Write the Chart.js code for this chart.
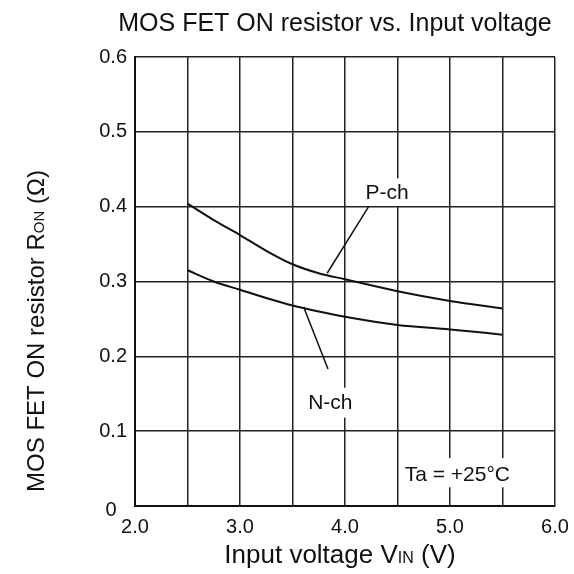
<!DOCTYPE html>
<html>
<head>
<meta charset="utf-8">
<script src="https://cdn.jsdelivr.net/npm/chart.js@4/dist/chart.umd.min.js"></script>
<style>
  html, body { margin: 0; padding: 0; background: #fff; }
  #wrap { width: 574px; height: 574px; }
</style>
</head>
<body>
<div id="wrap"><canvas id="ronChart"></canvas></div>
<script>
// values
const voltage = [2.5, 2.75, 3.0, 3.25, 3.5, 3.75, 4.0, 4.5, 5.0, 5.5];
const pchRon  = [0.404, 0.382, 0.362, 0.341, 0.323, 0.311, 0.303, 0.287, 0.274, 0.264];
const nchRon  = [0.315, 0.300, 0.289, 0.278, 0.268, 0.260, 0.253, 0.242, 0.236, 0.229];

// leader lines from label to curve
const pchLeaderX = [3.83, 4.225];
const pchLeaderY = [0.311, 0.400];
const nchLeaderX = [3.606, 3.838];
const nchLeaderY = [0.266, 0.183];

const xTicks = [2.0, 3.0, 4.0, 5.0, 6.0];
const yTicks = [0, 0.1, 0.2, 0.3, 0.4, 0.5, 0.6];

const chartTitle = 'MOS FET ON resistor vs. Input voltage';
const FONT = '"Liberation Sans", Arial, Helvetica, sans-serif';

function toPoints(xs, ys) {
    return xs.map((x, i) => ({ x: x, y: ys[i] }));
}

// text labels placed in data coordinates, drawn on a white box
const notes = [
    { text: 'P-ch', x: 4.40, y: 0.418, box: [4.11, 4.69, 0.438, 0.401] },
    { text: 'N-ch', x: 3.86, y: 0.138, box: [3.63, 4.10, 0.158, 0.118] },
    { text: 'Ta = +25°C', x: 5.07, y: 0.041, box: [4.55, 5.70, 0.064, 0.025] }
];

// draws title, axis titles (with subscripts) and the in-plot notes
const textPlugin = {
    id: 'textPlugin',
    afterDatasetsDraw(chart) {
        const ctx = chart.ctx;
        const xs = chart.scales.x;
        const ys = chart.scales.y;
        ctx.save();

        notes.forEach(n => {
            const l = xs.getPixelForValue(n.box[0]);
            const r = xs.getPixelForValue(n.box[1]);
            const t = ys.getPixelForValue(n.box[2]);
            const b = ys.getPixelForValue(n.box[3]);
            ctx.fillStyle = '#fff';
            ctx.fillRect(l, t, r - l, b - t);
            ctx.fillStyle = '#111';
            ctx.font = '21px ' + FONT;
            ctx.textAlign = 'center';
            ctx.textBaseline = 'middle';
            ctx.fillText(n.text, xs.getPixelForValue(n.x), ys.getPixelForValue(n.y));
        });
        ctx.restore();
    },
    afterDraw(chart) {
        const ctx = chart.ctx;
        const xs = chart.scales.x;
        const ys = chart.scales.y;
        ctx.save();
        ctx.fillStyle = '#111';

        // the "0" on the y axis sits lower-left of the others
        ctx.font = '20px ' + FONT;
        ctx.textAlign = 'center';
        ctx.textBaseline = 'middle';
        ctx.fillText('0', xs.left - 24, ys.getPixelForValue(0) + 4);

        ctx.textBaseline = 'alphabetic';

        // main title
        ctx.font = '25px ' + FONT;
        ctx.textAlign = 'center';
        ctx.fillText(chartTitle, 335, 31);

        // x axis title: Input voltage V_IN (V)
        drawSubText(ctx, [['Input voltage V', 26, 0], ['IN', 16, 0], [' (V)', 26, 0]], 340, 563);

        // y axis title rotated: MOS FET ON resistor R_ON (Ω)
        ctx.translate(44, 331);
        ctx.rotate(-Math.PI / 2);
        drawSubText(ctx, [['MOS FET ON resistor R', 24, 0], ['ON', 15, 0], [' (Ω)', 24, 0]], 0, 0);
        ctx.restore();
    }
};

function drawSubText(ctx, parts, cx, baseY) {
    let total = 0;
    parts.forEach(p => {
        ctx.font = p[1] + 'px ' + FONT;
        total += ctx.measureText(p[0]).width;
    });
    let x = cx - total / 2;
    ctx.textAlign = 'left';
    parts.forEach(p => {
        ctx.font = p[1] + 'px ' + FONT;
        ctx.fillText(p[0], x, baseY + p[2]);
        x += ctx.measureText(p[0]).width;
    });
}

const lineStyle = {
    borderColor: '#111',
    borderWidth: 2,
    pointRadius: 0,
    fill: false
};

new Chart(document.getElementById('ronChart'), {
    type: 'line',
    data: {
        datasets: [
            Object.assign({ label: 'P-ch', data: toPoints(voltage, pchRon), cubicInterpolationMode: 'monotone' }, lineStyle),
            Object.assign({ label: 'N-ch', data: toPoints(voltage, nchRon), cubicInterpolationMode: 'monotone' }, lineStyle),
            Object.assign({ label: 'P-ch leader', data: toPoints(pchLeaderX, pchLeaderY) }, lineStyle, { borderWidth: 1.5 }),
            Object.assign({ label: 'N-ch leader', data: toPoints(nchLeaderX, nchLeaderY) }, lineStyle, { borderWidth: 1.5 })
        ]
    },
    options: {
        responsive: true,
        maintainAspectRatio: false,
        animation: false,
        layout: { padding: { left: 0, top: 57, right: 19, bottom: 0 } },
        plugins: {
            legend: { display: false },
            tooltip: { enabled: false },
            title: { display: false }
        },
        scales: {
            x: {
                type: 'linear',
                min: 2,
                max: 6,
                afterBuildTicks: scale => {
                    const t = [];
                    for (let v = 2; v <= 6.001; v += 0.5) t.push({ value: Math.round(v * 10) / 10 });
                    scale.ticks = t;
                },
                afterFit: scale => {
                    scale.height = 68;
                    scale.paddingLeft = 0;
                    scale.paddingRight = 0;
                },
                grid: { color: '#222', lineWidth: 1.5, drawTicks: false },
                border: { color: '#111', width: 2 },
                ticks: {
                    autoSkip: false,
                    maxRotation: 0,
                    padding: 9,
                    color: '#111',
                    font: { family: FONT, size: 20 },
                    callback: v => xTicks.includes(v) ? v.toFixed(1) : ''
                }
            },
            y: {
                type: 'linear',
                min: 0,
                max: 0.6,
                afterBuildTicks: scale => {
                    scale.ticks = yTicks.map(v => ({ value: v }));
                },
                afterFit: scale => {
                    scale.width = 135;
                    scale.paddingTop = 0;
                    scale.paddingBottom = 0;
                },
                grid: { color: '#222', lineWidth: 1.5, drawTicks: false },
                border: { color: '#111', width: 2 },
                ticks: {
                    padding: 8,
                    color: '#111',
                    font: { family: FONT, size: 20 },
                    callback: v => v === 0 ? '' : v.toFixed(1)
                }
            }
        }
    },
    plugins: [textPlugin]
});
</script>
</body>
</html>
